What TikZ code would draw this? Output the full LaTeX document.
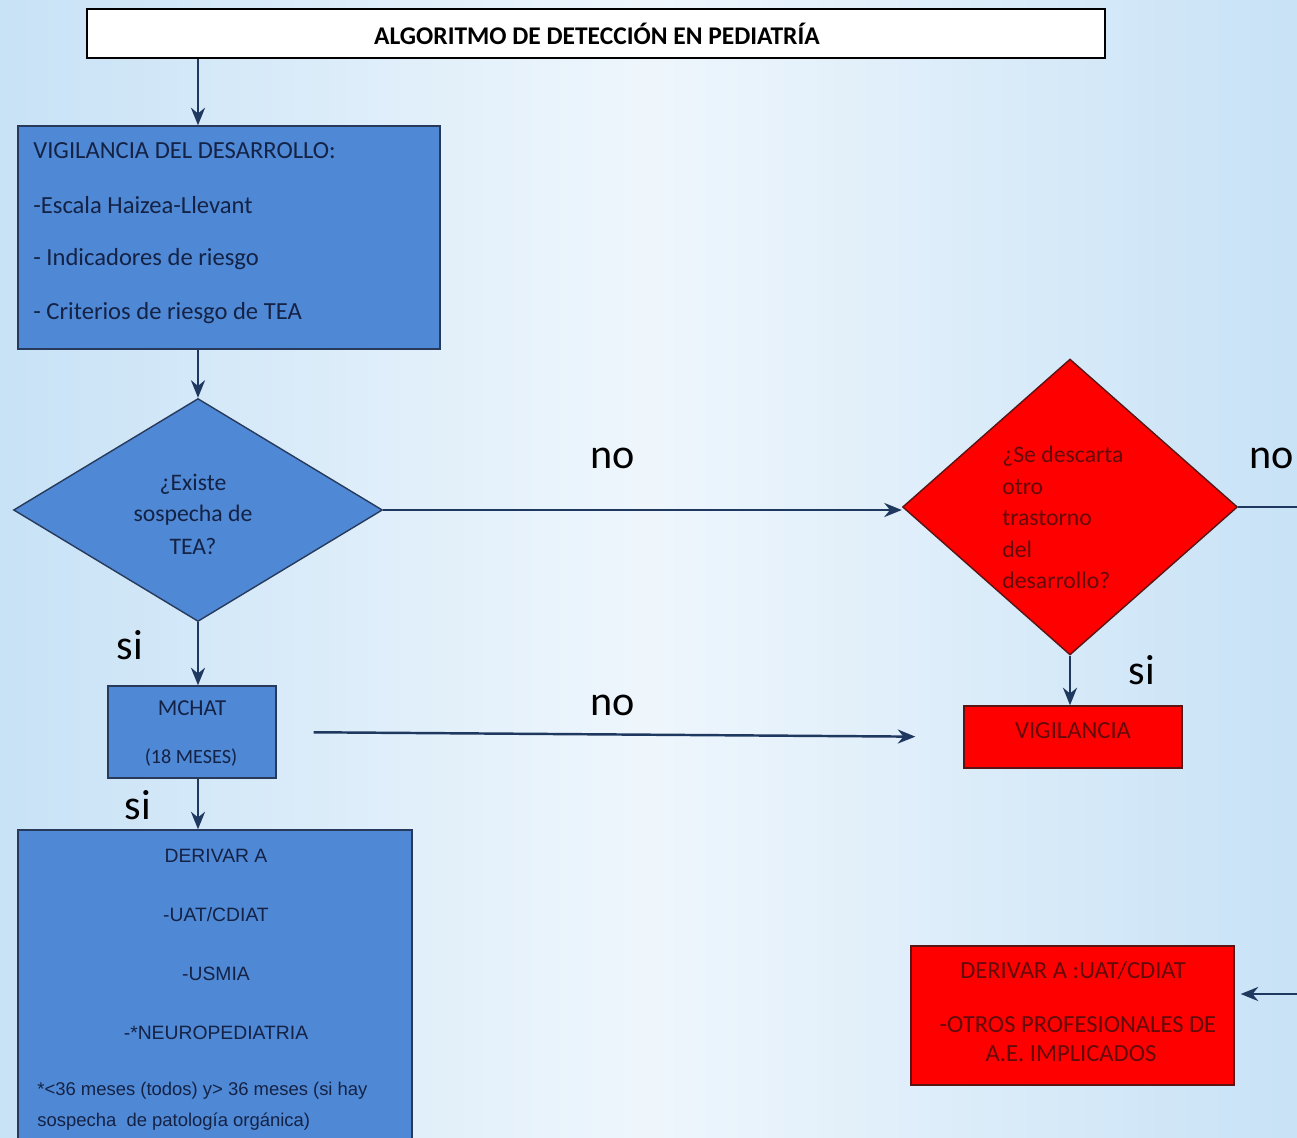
\documentclass[tikz,border=0pt]{standalone}
\usepackage{fontspec}
\setmainfont{Carlito}
\newfontfamily\arialfont{Liberation Sans}
\usetikzlibrary{shapes.geometric,arrows.meta}

\definecolor{bgblue}{RGB}{200,226,246}
\definecolor{boxblue}{RGB}{79,136,212}
\definecolor{boxedge}{RGB}{40,58,92}
\definecolor{navytext}{RGB}{20,34,70}
\definecolor{arrowcol}{RGB}{31,56,96}
\definecolor{rededge}{RGB}{90,20,20}
\definecolor{redtext}{RGB}{100,10,10}

\tikzset{
  bluebox/.style={draw=boxedge, fill=boxblue, line width=0.8pt, inner sep=0},
  redbox/.style={draw=rededge, fill=red, line width=0.8pt, inner sep=0},
  decide/.style={diamond, inner sep=0},
  flow arrow/.style={-{Stealth[length=10pt,width=8pt]}, arrowcol, line width=1.4pt},
  flow line/.style={arrowcol, line width=1.4pt},
  answer/.style={font=\fontsize{24}{24}\selectfont, text=black, inner sep=0},
  btext/.style={font=\fontsize{14}{14}\selectfont, text=navytext, inner sep=0},
  rtext/.style={font=\fontsize{14}{14}\selectfont, text=redtext, inner sep=0},
  atext/.style={font=\arialfont\fontsize{11}{11}\selectfont, text=navytext, inner sep=0},
}

\begin{document}
\begin{tikzpicture}[x=0.02cm, y=-0.02cm]
        % 1 unit = 1 px of the 1297 x 1138 sheet, y grows downwards
        % left column x-centre of the flow = 198
        % right column x-centre = 1070

        % ---- background ----
        \shade[left color=bgblue, right color=bgblue, middle color=white!70!bgblue]
          (0,0) rectangle (1297,1138);
        \useasboundingbox (0,0) rectangle (1297,1138);
        \clip (0,0) rectangle (1297,1138);

        % ---- title ----
        \node[draw=black, fill=white, line width=1.4pt, minimum width=20.36cm,
              minimum height=0.98cm] (title) at (596,33.5) {};
        \node[font=\bfseries\fontsize{14.5}{14.5}\selectfont, inner sep=0] (titletxt)
          at (597,34) {ALGORITMO DE DETECCIÓN EN PEDIATRÍA};

        % ---- left column ----
        \node[bluebox, minimum width=8.44cm, minimum height=4.46cm] (vig) at (229,237.5) {};
        \foreach \ty/\txt in {151/{VIGILANCIA DEL DESARROLLO:},
                              205/{-Escala Haizea-Llevant},
                              259/{- Indicadores de riesgo},
                              313/{- Criterios de riesgo de TEA}} {
          \node[btext, anchor=west] (vigline\ty) at (33,\ty) {\txt};
        }

        \node[decide, fill=boxblue, draw=boxedge, line width=0.8pt,
              minimum width=7.38cm, minimum height=4.46cm] (tea) at (198,510) {};
        \foreach \ty/\txt in {484/{¿Existe}, 515/{sospecha de}, 546/{TEA?}} {
          \node[btext, font=\fontsize{13.5}{13.5}\selectfont] (tealine\ty) at (193,\ty) {\txt};
        }

        \node[bluebox, minimum width=3.36cm, minimum height=1.84cm] (mchat) at (192,732) {};
        \node[btext, font=\fontsize{13}{13}\selectfont] (mchattxt) at (192,708) {MCHAT};
        \node[btext, font=\fontsize{11.5}{11.5}\selectfont] (mchatage) at (191,758) {(18 MESES)};

        \node[bluebox, minimum width=7.88cm, minimum height=6.40cm] (deriv) at (215,990) {};
        \foreach \ty/\txt in {856/{DERIVAR A}, 915/{-UAT/CDIAT},
                              974/{-USMIA}, 1033/{-*NEUROPEDIATRIA}} {
          \node[atext] (derivline\ty) at (216,\ty) {\txt};
        }
        \node[atext, font=\arialfont\fontsize{10.5}{10.5}\selectfont, anchor=west] (note1)
          at (37,1091) {*<36 meses (todos) y> 36 meses (si hay};
        \node[atext, font=\arialfont\fontsize{10.5}{10.5}\selectfont, anchor=west] (note2)
          at (37,1122) {sospecha\ \ de patología orgánica)};

        % ---- right column ----
        \node[decide, fill=red, draw=rededge, line width=0.8pt,
              minimum width=6.70cm, minimum height=5.92cm] (otro) at (1070,507) {};
        \foreach \ty/\txt in {456/{¿Se descarta}, 487/{otro}, 518/{trastorno},
                              549/{del}, 580/{desarrollo?}} {
          \node[rtext, font=\fontsize{13.5}{13.5}\selectfont, anchor=west] (otroline\ty)
            at (1002,\ty) {\txt};
        }

        \node[redbox, minimum width=4.36cm, minimum height=1.24cm] (vigil) at (1073,737) {};
        \node[rtext] (vigiltxt) at (1073,731) {VIGILANCIA};

        \node[redbox, minimum width=6.46cm, minimum height=2.78cm] (derivr) at (1072.5,1015.5) {};
        \node[rtext] (derivr1) at (1073,970) {DERIVAR A :UAT/CDIAT};
        \node[rtext] (derivr2) at (1078,1025) {-OTROS PROFESIONALES DE};
        \node[rtext] (derivr3) at (1071,1054) {A.E. IMPLICADOS};

        % ---- answers ----
        \node[answer] (no1) at (613,458) {no};
        \node[answer] (no2) at (613,705) {no};
        \node[answer] (no3) at (1272,458) {no};
        \node[answer] (si1) at (130,645) {si};
        \node[answer] (si2) at (138,805) {si};
        \node[answer] (si3) at (1142,670) {si};

        % ---- connectors ----
        \coordinate (edgeA) at (1297,507);
        \coordinate (edgeB) at (1297,994);
        \draw[flow arrow] (title.south -| tea.north) -- (vig.north -| tea.north);
        \draw[flow arrow] (vig.south -| tea.north) -- (tea.north);
        \draw[flow arrow] (tea.east) -- (tea.east -| otro.west);
        \draw[flow arrow] (tea.south) -- (tea.south |- mchat.north);
        \draw[flow arrow, shorten <=0.74cm, shorten >=0.96cm] (mchat.east) -- (vigil.west);
        \draw[flow arrow] (mchat.south -| tea.south) -- (deriv.north -| tea.south);
        \draw[flow arrow] (otro.south) -- (otro.south |- vigil.north);
        \draw[flow line] (otro.east) -- (edgeA);
        \draw[flow arrow, shorten >=0.12cm] (edgeB) -- (edgeB -| derivr.east);
      \end{tikzpicture}
\end{document}
